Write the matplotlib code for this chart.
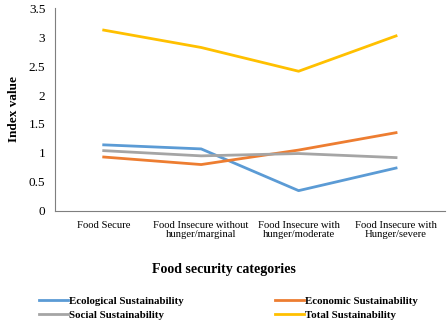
import matplotlib.pyplot as plt

plt.rcParams["font.family"] = ["Liberation Serif", "DejaVu Serif"]

categories = ["Food Secure", "Food Insecure without\nhunger/marginal",
              "Food Insecure with\nhunger/moderate", "Food Insecure with\nHunger/severe"]
ecological = [1.14, 1.07, 0.35, 0.74]
economic = [0.93, 0.80, 1.05, 1.35]
social = [1.04, 0.95, 0.99, 0.92]
total = [3.12, 2.82, 2.41, 3.02]

fig = plt.figure(figsize=(4.47, 3.23), dpi=100)
ax = fig.add_axes([0.123, 0.347, 0.872, 0.628])

x = range(len(categories))
lw = 2.0
l1, = ax.plot(x, ecological, color="#5B9BD5", lw=lw, label="Ecological Sustainability")
l2, = ax.plot(x, economic, color="#ED7D31", lw=lw, label="Economic Sustainability")
l3, = ax.plot(x, social, color="#A5A5A5", lw=lw, label="Social Sustainability")
l4, = ax.plot(x, total, color="#FFC000", lw=lw, label="Total Sustainability")

ax.set_xlim(-0.5, 3.5)
ax.set_ylim(0, 3.5)
ax.set_yticks([0, 0.5, 1, 1.5, 2, 2.5, 3, 3.5])
ax.set_yticklabels(["0", "0.5", "1", "1.5", "2", "2.5", "3", "3.5"])
ax.set_xticks(list(x))
ax.set_xticklabels(categories, fontsize=7.7, linespacing=1.05)
ax.tick_params(axis="y", labelsize=9.5, length=0, pad=7)
ax.tick_params(axis="x", length=0, pad=7)
for s in ["top", "right"]:
    ax.spines[s].set_visible(False)
for s in ["left", "bottom"]:
    ax.spines[s].set_color("#7f7f7f")
    ax.spines[s].set_linewidth(0.8)

ax.set_ylabel("Index value", fontsize=9.5, fontweight="bold", labelpad=6)
fig.text(0.5, 0.167, "Food security categories", ha="center", va="center",
         fontsize=10, fontweight="bold")

fig.legend([l1, l3, l2, l4],
           [l1.get_label(), l3.get_label(), l2.get_label(), l4.get_label()],
           ncol=2, loc="center", bbox_to_anchor=(0.511, 0.046), frameon=False,
           prop={"weight": "bold", "size": 7.8}, handlelength=2.7,
           handletextpad=0.1, columnspacing=8.4, labelspacing=0.4)

fig.savefig("out.png", dpi=100)
